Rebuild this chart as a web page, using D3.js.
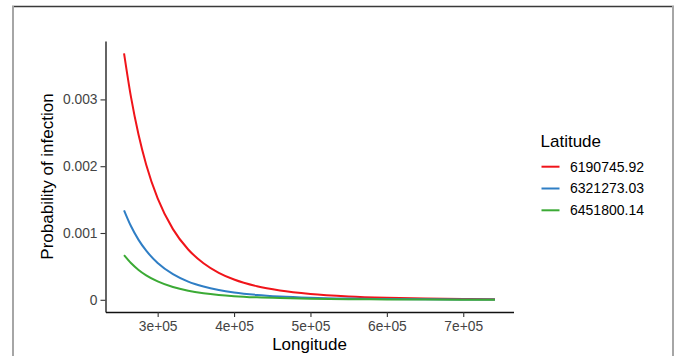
<!DOCTYPE html>
<html><head><meta charset="utf-8">
<script src="https://cdn.jsdelivr.net/npm/d3@7"></script>
<style>
body{margin:0;background:#fff}
svg{display:block}
text{font-family:"Liberation Sans",Arial,Helvetica,sans-serif}
</style>
</head><body><svg id="c" width="677" height="356"></svg>
<script>
// ---- data ----
const longitude = [256000, 265000, 275000, 285000, 300000, 320000, 340000, 360000, 380000, 400000, 430000, 460000, 500000, 550000, 600000, 650000, 700000, 741500];
const latitudeLevels = ["6190745.92", "6321273.03", "6451800.14"];
const probLat1 = [0.003690, 0.003041, 0.002471, 0.002023, 0.001518, 0.001058, 0.000753, 0.000547, 0.000404, 0.000303, 0.000202, 0.000139, 0.0000869, 0.0000509, 0.0000313, 0.0000200, 0.0000132, 0.0000096];
const probLat2 = [0.001340, 0.001104, 0.000897, 0.000735, 0.000551, 0.000384, 0.000273, 0.000199, 0.000147, 0.000110, 0.0000734, 0.0000504, 0.0000315, 0.0000185, 0.0000114, 0.0000072, 0.0000048, 0.0000035];
const probLat3 = [0.000668, 0.000550, 0.000447, 0.000366, 0.000275, 0.000191, 0.000136, 0.0000990, 0.0000731, 0.0000549, 0.0000366, 0.0000251, 0.0000157, 0.0000092, 0.0000057, 0.0000036, 0.0000024, 0.0000017];
const xTickValues = [300000, 400000, 500000, 600000, 700000];
const xTickLabels = ["3e+05", "4e+05", "5e+05", "6e+05", "7e+05"];
const yTickValues = [0, 0.001, 0.002, 0.003];
const yTickLabels = ["0", "0.001", "0.002", "0.003"];
const seriesColors = ["#F0141A", "#2F7EC5", "#3BAA35"];

const series = [probLat1, probLat2, probLat3].map((vals, i) => ({
  name: latitudeLevels[i], color: seriesColors[i],
  points: vals.map((v, j) => [longitude[j], v])
}));

const svg = d3.select("#c");
svg.append("rect").attr("width", 677).attr("height", 356).attr("fill", "#fff");

// outer frame of the picture
svg.append("line").attr("x1", 12).attr("x2", 674).attr("y1", 6.5).attr("y2", 6.5).attr("stroke", "#3a3a3a").attr("stroke-width", 1.5);
svg.append("line").attr("x1", 13).attr("x2", 13).attr("y1", 6).attr("y2", 356).attr("stroke", "#a6a6a6").attr("stroke-width", 2);
svg.append("line").attr("x1", 673).attr("x2", 673).attr("y1", 6).attr("y2", 356).attr("stroke", "#a6a6a6").attr("stroke-width", 2);

// scales with ggplot-like 5% expansion
const L = 105.5, R = 513.5, T = 41, B = 312;
const xe = d3.extent(longitude), xp = (xe[1] - xe[0]) * 0.05;
const allY = [].concat(probLat1, probLat2, probLat3);
const ye = d3.extent(allY), yp = (ye[1] - ye[0]) * 0.05;
const x = d3.scaleLinear().domain([xe[0] - xp, xe[1] + xp]).range([L, R]);
const y = d3.scaleLinear().domain([ye[0] - yp, ye[1] + yp]).range([B, T]);

// lines
const line = d3.line().x(d => x(d[0])).y(d => y(d[1])).curve(d3.curveMonotoneX);
svg.append("g").selectAll("path").data(series).join("path")
  .attr("d", d => line(d.points)).attr("fill", "none")
  .attr("stroke", d => d.color).attr("stroke-width", 2);

// axes
const xAxis = svg.append("g").attr("transform", `translate(0,${B})`)
  .call(d3.axisBottom(x).tickValues(xTickValues).tickFormat((d, i) => xTickLabels[i]).tickSizeInner(5).tickSizeOuter(0).tickPadding(4));
const yAxis = svg.append("g").attr("transform", `translate(${L},0)`)
  .call(d3.axisLeft(y).tickValues(yTickValues).tickFormat((d, i) => yTickLabels[i]).tickSizeInner(5).tickSizeOuter(0).tickPadding(3));
[xAxis, yAxis].forEach(g => {
  g.select(".domain").attr("stroke", "#111").attr("stroke-width", 1.3);
  g.selectAll(".tick line").attr("stroke", "#333").attr("stroke-width", 1.1);
  g.selectAll(".tick text").attr("fill", "#444").style("font-size", "13.8px")
   .style("font-family", '"Liberation Sans",Arial,sans-serif');
});

// axis titles
svg.append("text").attr("x", (L + R) / 2).attr("y", 350).attr("text-anchor", "middle")
  .style("font-size", "17px").attr("fill", "#000").text("Longitude");
svg.append("text").attr("transform", `translate(53,${(T + B) / 2}) rotate(-90)`).attr("text-anchor", "middle")
  .style("font-size", "17px").attr("fill", "#000").text("Probability of infection");

// legend
const lg = svg.append("g");
lg.append("text").attr("x", 540.5).attr("y", 146.5).style("font-size", "17px").attr("fill", "#000").text("Latitude");
const legendY = [166.7, 188.5, 210.3];
series.forEach((s, i) => {
  lg.append("line").attr("x1", 541.5).attr("x2", 559.5).attr("y1", legendY[i]).attr("y2", legendY[i])
    .attr("stroke", s.color).attr("stroke-width", 2);
  lg.append("text").attr("x", 570).attr("y", legendY[i]).attr("dy", "0.35em")
    .style("font-size", "14px").attr("fill", "#000").text(s.name);
});
</script>
</body></html>
